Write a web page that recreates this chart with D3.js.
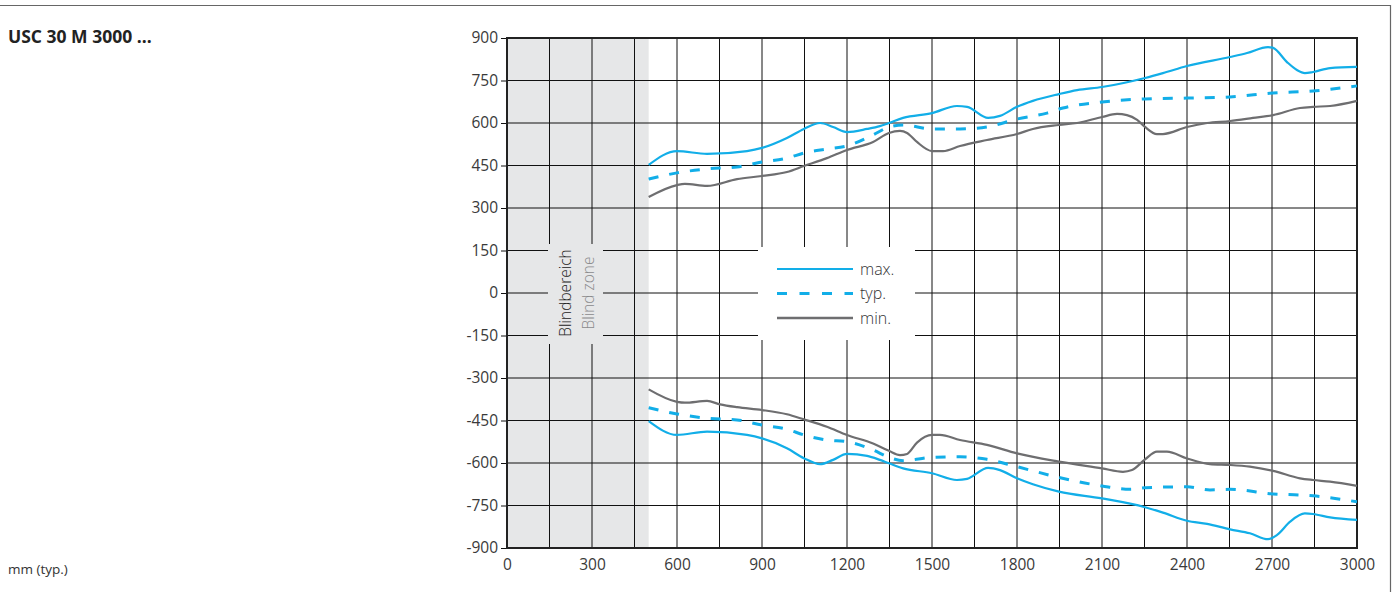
<!DOCTYPE html>
<html>
<head>
<meta charset="utf-8">
<script src="https://cdn.jsdelivr.net/npm/d3@7"></script>
<style>
  body { margin: 0; background: #fff; }
  svg { display: block; font-family: "Open Sans", "Noto Sans", sans-serif; }
</style>
</head>
<body>
<svg id="chart" width="1398" height="592"></svg>
<script>
// values, [distance mm, lateral mm]
const maxUpper = [[500,452],[600,501],[706,491],[847,501],[900,512],[988,547],[1048,579],[1105,600],[1151,586],[1200,568],[1271,579],[1316,589],[1348,600],[1398,618],[1500,635],[1588,660],[1624,657],[1698,618],[1740,625],[1800,657],[1856,678],[1948,702],[2012,716],[2100,727],[2252,759],[2315,776],[2400,801],[2552,833],[2612,847],[2686,868],[2704,865],[2753,815],[2788,787],[2816,776],[2845,780],[2905,794],[3000,798]];
const typUpper = [[500,402],[600,424],[706,438],[812,445],[900,462],[988,476],[1048,494],[1129,508],[1200,519],[1292,558],[1348,586],[1398,593],[1500,579],[1599,579],[1694,586],[1800,614],[1906,635],[1962,653],[2100,674],[2252,685],[2400,688],[2552,692],[2704,706],[2845,713],[3000,731]];
const minUpper = [[500,339],[600,381],[628,385],[706,378],[812,402],[900,413],[988,427],[1048,448],[1129,476],[1200,505],[1292,533],[1348,565],[1387,572],[1412,565],[1447,533],[1500,501],[1539,501],[1599,519],[1694,540],[1800,561],[1856,579],[1948,593],[2012,600],[2100,621],[2153,632],[2188,628],[2224,611],[2252,586],[2294,561],[2315,561],[2400,586],[2471,600],[2552,607],[2633,618],[2704,628],[2799,653],[2845,657],[2905,660],[3000,678]];
const maxLower = [[500,-452],[600,-501],[706,-489],[847,-501],[900,-513],[988,-548],[1048,-583],[1105,-604],[1151,-589],[1200,-568],[1271,-575],[1316,-589],[1348,-601],[1398,-619],[1500,-636],[1588,-660],[1624,-656],[1698,-617],[1740,-625],[1800,-654],[1856,-675],[1948,-701],[2100,-725],[2252,-756],[2315,-775],[2400,-804],[2471,-815],[2552,-834],[2622,-848],[2686,-869],[2718,-854],[2764,-807],[2816,-778],[2845,-780],[2905,-792],[3000,-801]];
const typLower = [[500,-405],[600,-427],[706,-442],[812,-448],[900,-466],[988,-481],[1048,-501],[1129,-519],[1200,-525],[1292,-554],[1348,-580],[1398,-592],[1500,-580],[1599,-578],[1694,-587],[1800,-613],[1948,-651],[2100,-681],[2199,-693],[2252,-687],[2400,-684],[2481,-695],[2552,-693],[2704,-709],[2799,-713],[2845,-716],[3000,-737]];
const minLower = [[500,-340],[600,-384],[628,-387],[706,-381],[752,-393],[812,-403],[900,-413],[988,-428],[1048,-446],[1129,-472],[1200,-501],[1292,-531],[1348,-557],[1387,-572],[1412,-568],[1447,-528],[1500,-501],[1528,-501],[1599,-519],[1694,-536],[1800,-566],[1948,-595],[2100,-619],[2174,-631],[2206,-625],[2252,-587],[2294,-560],[2329,-560],[2400,-584],[2481,-604],[2552,-607],[2622,-613],[2704,-628],[2799,-654],[2845,-660],[2905,-666],[3000,-681]];

const xTicks = [0, 300, 600, 900, 1200, 1500, 1800, 2100, 2400, 2700, 3000];
const yTicks = [-900, -750, -600, -450, -300, -150, 0, 150, 300, 450, 600, 750, 900];
const legendLabels = ["max.", "typ.", "min."];
const blindZone = [0, 500];

const BLUE = "#12aee8", GREY = "#6e6e70";
const fmt = d => String(d); // plain "-900", "1200"

const svg = d3.select("#chart");
const x = d3.scaleLinear().domain([0, 3000]).range([507, 1357]);
const y = d3.scaleLinear().domain([-900, 900]).range([548, 38]);

// outer frame (top + right edge)
svg.append("path").attr("d", "M0,5.5H1390.5V592")
    .attr("fill", "none").attr("stroke", "#666").attr("stroke-width", 1.2);

svg.append("text").attr("x", 8).attr("y", 43)
    .attr("font-size", 17.5).attr("font-weight", 700).attr("fill", "#222")
    .text("USC 30 M 3000 ...");
svg.append("text").attr("x", 8).attr("y", 574)
    .attr("font-size", 13.5).attr("font-weight", 400).attr("fill", "#333")
    .text("mm (typ.)");

// blind zone
svg.append("rect")
    .attr("x", x(blindZone[0])).attr("y", y(900))
    .attr("width", x(blindZone[1]) - x(blindZone[0])).attr("height", y(-900) - y(900))
    .attr("fill", "#e6e7e8");

// grid
const grid = svg.append("g").attr("stroke", "#111").attr("stroke-width", 1);
grid.selectAll(".gx").data(d3.range(150, 3000, 150)).join("line")
    .attr("x1", d => x(d)).attr("x2", d => x(d)).attr("y1", y(900)).attr("y2", y(-900));
grid.selectAll(".gy").data(yTicks.slice(1, -1)).join("line")
    .attr("x1", x(0)).attr("x2", x(3000)).attr("y1", d => y(d)).attr("y2", d => y(d));

// y axis ticks + labels
const yAxis = svg.append("g").attr("transform", `translate(${x(0)},0)`)
    .call(d3.axisLeft(y).tickValues(yTicks).tickFormat(fmt).tickSize(6).tickPadding(3));
yAxis.select(".domain").remove();
yAxis.selectAll("line").attr("stroke", "#111");
yAxis.selectAll("text").attr("font-size", 15.5).attr("fill", "#3a3a3a")
    .attr("font-family", "Open Sans").attr("font-weight", 400);

const xAxis = svg.append("g").attr("transform", `translate(0,${y(-900)})`)
    .call(d3.axisBottom(x).tickValues(xTicks).tickFormat(fmt).tickSize(0).tickPadding(11));
xAxis.select(".domain").remove();
xAxis.selectAll("text").attr("font-size", 15.5).attr("fill", "#3a3a3a")
    .attr("font-family", "Open Sans").attr("font-weight", 400);

// plot border
svg.append("rect").attr("x", x(0)).attr("y", y(900))
    .attr("width", x(3000) - x(0)).attr("height", y(-900) - y(900))
    .attr("fill", "none").attr("stroke", "#222").attr("stroke-width", 2);

// blind zone label
svg.append("rect").attr("x", 548).attr("y", 244).attr("width", 55).attr("height", 100)
    .attr("fill", "#e6e7e8");
const bz = svg.append("g").attr("font-size", 15.5).attr("font-weight", 300).attr("text-anchor", "middle");
bz.append("text").attr("transform", `translate(571,${y(0)}) rotate(-90)`)
    .attr("fill", "#222").text("Blindbereich");
bz.append("text").attr("transform", `translate(594,${y(0)}) rotate(-90)`)
    .attr("fill", "#8a8a8c").text("Blind zone");

// curves
const line = d3.line().x(d => x(d[0])).y(d => y(d[1])).curve(d3.curveMonotoneX);
const series = [
    { data: maxUpper, color: BLUE, dash: null, w: 2.2 },
    { data: maxLower, color: BLUE, dash: null, w: 2.2 },
    { data: minUpper, color: GREY, dash: null, w: 2.2 },
    { data: minLower, color: GREY, dash: null, w: 2.2 },
    { data: typUpper, color: BLUE, dash: "10,11", w: 3 },
    { data: typLower, color: BLUE, dash: "10,11", w: 3 }
];
svg.append("g").selectAll("path").data(series).join("path")
    .attr("d", d => line(d.data))
    .attr("fill", "none")
    .attr("stroke", d => d.color)
    .attr("stroke-width", d => d.w)
    .attr("stroke-dasharray", d => d.dash);

// legend
const lg = svg.append("g");
lg.append("rect").attr("x", 758).attr("y", 247).attr("width", 157).attr("height", 93).attr("fill", "#fff");
const legendStyles = [
    { color: BLUE, dash: null, w: 2.2 },
    { color: BLUE, dash: "10,12.5", w: 3 },
    { color: GREY, dash: null, w: 2.5 }
];
legendLabels.forEach((lab, i) => {
    const yy = 269 + i * 24.5;
    lg.append("line").attr("x1", 777).attr("x2", 853).attr("y1", yy).attr("y2", yy)
        .attr("stroke", legendStyles[i].color).attr("stroke-width", legendStyles[i].w)
        .attr("stroke-dasharray", legendStyles[i].dash);
    lg.append("text").attr("x", 860).attr("y", yy + 5.5)
        .attr("font-size", 16).attr("font-weight", 300).attr("fill", "#333").text(lab);
});
</script>
</body>
</html>
